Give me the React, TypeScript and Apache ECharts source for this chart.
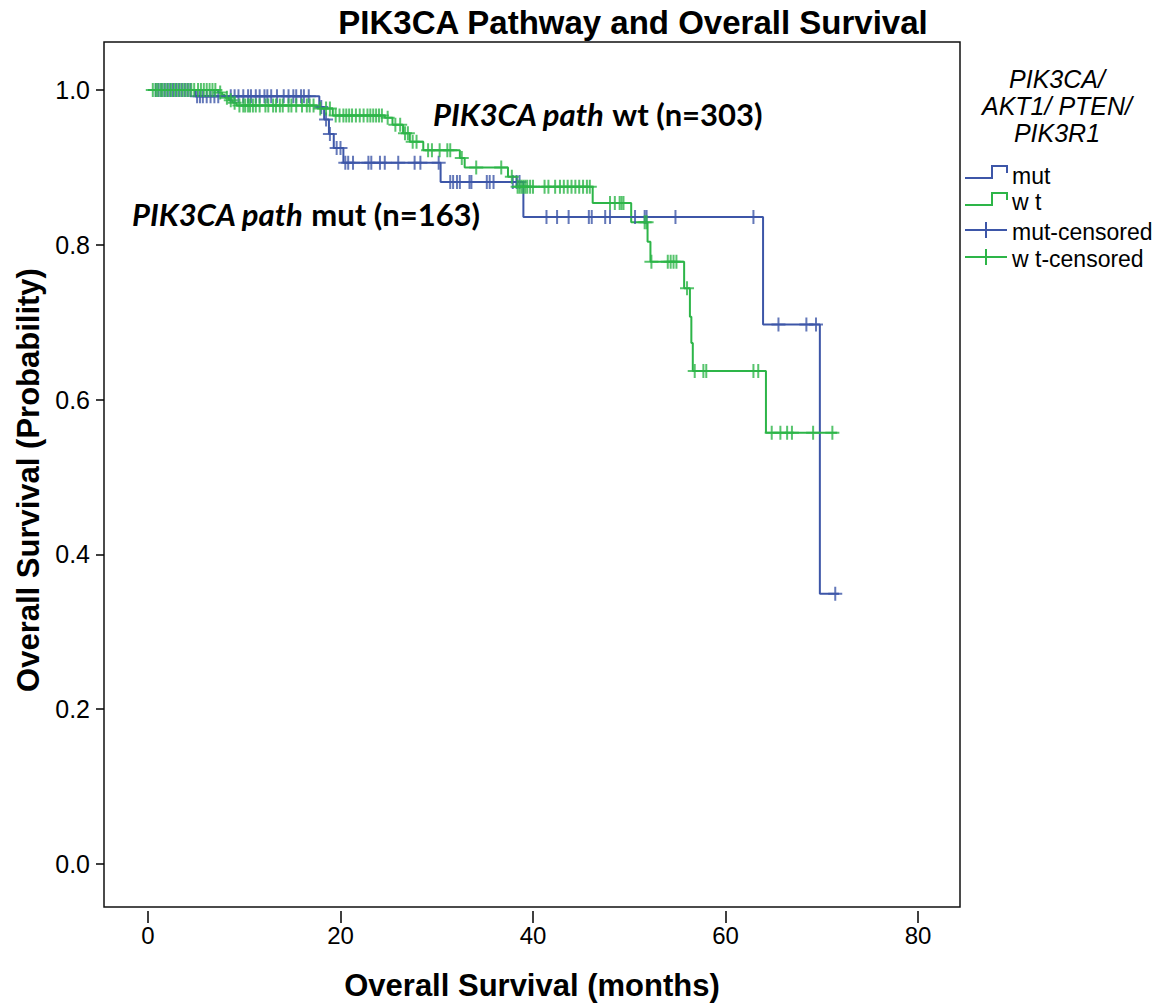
import React, { useEffect, useRef } from "react";
import * as echarts from "echarts";

// ---------- data ----------
const xTicks = [0, 20, 40, 60, 80];
const yTicks = [0, 0.2, 0.4, 0.6, 0.8, 1.0];

// mut group (n=163): event times and survival after each step
const mutTimes = [0, 4.9, 17.8, 18.3, 18.8, 19.3, 20.3, 30.4, 39.0, 63.9, 69.8, 71.8];
const mutSurv = [1.0, 0.992, 0.978, 0.962, 0.943, 0.925, 0.906, 0.881, 0.836, 0.697, 0.349, 0.349];
const mutCensored = [
  0.8, 1.1, 1.4, 1.7, 2.0, 2.3, 2.6, 2.9, 3.2, 3.5, 3.8, 4.1, 4.4,
  5.1, 5.4, 5.7, 6.1, 6.5, 6.9, 7.3, 8.6, 9.0, 9.4, 9.9, 10.4, 10.7, 11.2, 11.6, 12.1, 12.4, 12.8,
  13.4, 14.1, 14.6, 15.1, 15.4, 15.9, 16.2, 16.7,
  18.0, 18.5, 18.9, 19.6, 20.0,
  20.5, 20.8, 21.3, 22.9, 23.2, 24.1, 24.6, 26.0, 27.7, 28.3, 30.2,
  31.4, 31.7, 32.1, 32.4, 33.4, 33.6, 35.2, 35.5, 35.9, 37.9, 38.3, 38.6,
  41.4, 42.5, 43.7, 45.8, 46.1, 47.5, 48.0, 50.6, 51.6, 51.8, 54.8, 62.9,
  65.5, 68.4, 69.4, 71.4,
];

// wt group (n=303)
const wtTimes = [0, 7.3, 7.7, 8.0, 8.4, 8.8, 9.2, 17.6, 19.2, 24.6, 25.4, 26.5, 27.2, 28.6, 32.4, 32.9, 37.4, 38.3, 46.2, 50.2, 51.9, 52.2, 55.7, 56.3, 56.45, 56.6, 64.2, 71.6];
const wtSurv = [1.0, 0.9967, 0.9934, 0.99, 0.9868, 0.9835, 0.98, 0.976, 0.967, 0.964, 0.955, 0.944, 0.933, 0.922, 0.912, 0.9, 0.888, 0.875, 0.854, 0.829, 0.804, 0.778, 0.744, 0.707, 0.673, 0.637, 0.557, 0.557];
const wtCensored = [
  0.5, 0.8, 1.0, 1.3, 1.5, 1.8, 2.1, 2.4, 2.7, 3.0, 3.3, 3.6, 3.9, 4.2, 4.5, 4.8, 5.2, 5.5, 5.8, 6.1, 6.4, 6.7, 7.0,
  7.5, 8.2, 8.6, 9.0,
  9.5, 9.9, 10.1, 10.4, 10.6, 10.9, 11.2, 11.6, 12.2, 12.5, 13.0, 13.3, 13.7, 14.0, 14.6, 14.9, 15.4, 16.0, 16.5, 16.8, 17.2,
  17.9, 18.5, 18.9,
  19.5, 19.9, 20.3, 20.6, 20.9, 21.2, 21.6, 22.0, 22.4, 22.8, 23.1, 23.4, 23.7, 24.0, 24.3,
  24.9, 25.7, 26.2, 26.7, 27.0, 27.5, 27.9,
  29.1, 29.5, 30.3, 31.1, 31.4, 32.6, 34.1, 36.7, 37.8,
  38.4, 38.6, 38.8, 39.0, 39.2, 39.4, 39.7, 40.0, 41.2, 41.6, 42.3, 42.8, 43.2, 43.6, 44.0, 44.4, 44.8, 45.2, 45.6, 45.9,
  48.0, 48.5, 49.0, 49.2, 49.4,
  51.6, 51.8, 52.3, 54.0, 54.3, 54.6, 54.9, 56.0,
  56.8, 57.7, 58.0, 62.9, 63.4,
  64.8, 65.7, 66.4, 66.9, 69.1, 71.1,
];

const legendTitle = ["PIK3CA/", "AKT1/ PTEN/", "PIK3R1"];
const legendLabels = ["mut", "w t", "mut-censored", "w t-censored"];

// ---------- styling ----------
const BLUE = "#3D56A8";
const GREEN = "#2DB548";
const CROSS = "path://M6,0H8V14H6ZM0,6H14V8H0Z";
const ARIAL = '"Liberation Sans", Arial, sans-serif';

function levelAt(times: number[], surv: number[], t: number) {
  let v = surv[0];
  for (let i = 0; i < times.length; i++) {
    if (times[i] <= t) v = surv[i];
    else break;
  }
  return v;
}

export default function App() {
  const ref = useRef<HTMLDivElement>(null);
  useEffect(() => {
    if (!ref.current) return;
    const chart = echarts.init(ref.current, undefined, { renderer: "svg" });

    const richBase = { fontFamily: "Lato", fontWeight: "bold", fontSize: 31, fill: "#000" };

    const graphic: any[] = [
      {
        type: "text", x: 633, y: 22,
        style: { text: "PIK3CA Pathway and Overall Survival", fontFamily: ARIAL, fontWeight: "bold", fontSize: 33, fill: "#000", align: "center", verticalAlign: "middle" },
      },
      {
        type: "text", x: 28, y: 480, rotation: Math.PI / 2,
        style: { text: "Overall Survival (Probability)", fontFamily: ARIAL, fontWeight: "bold", fontSize: 31, fill: "#000", align: "center", verticalAlign: "middle" },
      },
      {
        type: "text", x: 532, y: 985,
        style: { text: "Overall Survival (months)", fontFamily: ARIAL, fontWeight: "bold", fontSize: 31, fill: "#000", align: "center", verticalAlign: "middle" },
      },
      {
        type: "text", x: 433, y: 114,
        style: {
          text: "{i|PIK3CA path} {b|wt (n=303)}", ...richBase, verticalAlign: "middle",
          rich: { i: { ...richBase, fontStyle: "italic" }, b: { ...richBase } },
        },
      },
      {
        type: "text", x: 132, y: 214,
        style: {
          text: "{i|PIK3CA path} {b|mut (n=163)}", ...richBase, verticalAlign: "middle",
          rich: { i: { ...richBase, fontStyle: "italic" }, b: { ...richBase } },
        },
      },
    ];
    legendTitle.forEach((t, i) => {
      graphic.push({
        type: "text", x: 1057, y: 79 + i * 27,
        style: { text: t, fontFamily: ARIAL, fontStyle: "italic", fontSize: 25, lineHeight: 25, fill: "#000", align: "center", verticalAlign: "middle" },
      });
    });
    const rowY = [176, 202, 232, 259];
    legendLabels.forEach((t, i) => {
      graphic.push({
        type: "text", x: 1012, y: rowY[i],
        style: { text: t, fontFamily: ARIAL, fontSize: 23, fill: "#000", align: "left", verticalAlign: "middle" },
      });
    });
    [BLUE, GREEN].forEach((c, i) => {
      const b = [178, 205][i];
      graphic.push({
        type: "polyline",
        shape: { points: [[965, b], [992, b], [992, b - 12], [1007, b - 12], [1007, b - 5]] },
        style: { stroke: c, lineWidth: 2, fill: null },
      });
    });
    [BLUE, GREEN].forEach((c, i) => {
      const y = [230, 257][i];
      graphic.push({ type: "line", shape: { x1: 965, y1: y, x2: 1007, y2: y }, style: { stroke: c, lineWidth: 2 } });
      graphic.push({ type: "line", shape: { x1: 986, y1: y - 8, x2: 986, y2: y + 8 }, style: { stroke: c, lineWidth: 2 } });
    });

    const tickStyle = { color: "#000", width: 1.5 };

    chart.setOption({
      animation: false,
      backgroundColor: "#fff",
      grid: {
        left: 104, right: 200, top: 42, bottom: 98,
        show: true, borderColor: "#111", borderWidth: 1.5,
        outerBoundsMode: "none", containLabel: false,
      },
      xAxis: {
        type: "value", min: -4.57, max: 84.36, offset: 4,
        axisLine: { show: false, onZero: false },
        axisTick: { show: true, length: 12, customValues: xTicks, lineStyle: tickStyle },
        axisLabel: { customValues: xTicks, margin: 12, fontSize: 24, fontFamily: ARIAL, color: "#000" },
        splitLine: { show: false },
      },
      yAxis: {
        type: "value", min: -0.0556, max: 1.062,
        axisLine: { show: false, onZero: false },
        axisTick: { show: true, length: 8, customValues: yTicks, lineStyle: tickStyle },
        axisLabel: { customValues: yTicks, margin: 14, fontSize: 25, fontFamily: ARIAL, color: "#000", formatter: (v: number) => v.toFixed(1) },
        splitLine: { show: false },
      },
      series: [
        {
          name: "mut", type: "line", step: "end", symbol: "none",
          data: mutTimes.map((t, i) => [t, mutSurv[i]]),
          lineStyle: { color: BLUE, width: 2 }, z: 2,
        },
        {
          name: "wt", type: "line", step: "end", symbol: "none",
          data: wtTimes.map((t, i) => [t, wtSurv[i]]),
          lineStyle: { color: GREEN, width: 2 }, z: 3,
        },
        {
          name: "mut-censored", type: "scatter", symbol: CROSS, symbolSize: 14,
          data: mutCensored.map((t) => [t, levelAt(mutTimes, mutSurv, t)]),
          itemStyle: { color: BLUE }, z: 4,
        },
        {
          name: "wt-censored", type: "scatter", symbol: CROSS, symbolSize: 14,
          data: wtCensored.map((t) => [t, levelAt(wtTimes, wtSurv, t)]),
          itemStyle: { color: GREEN }, z: 5,
        },
      ],
      graphic,
    });
    return () => chart.dispose();
  }, []);

  return <div ref={ref} style={{ position: "fixed", left: 0, top: 0, width: 1160, height: 1005 }} />;
}
